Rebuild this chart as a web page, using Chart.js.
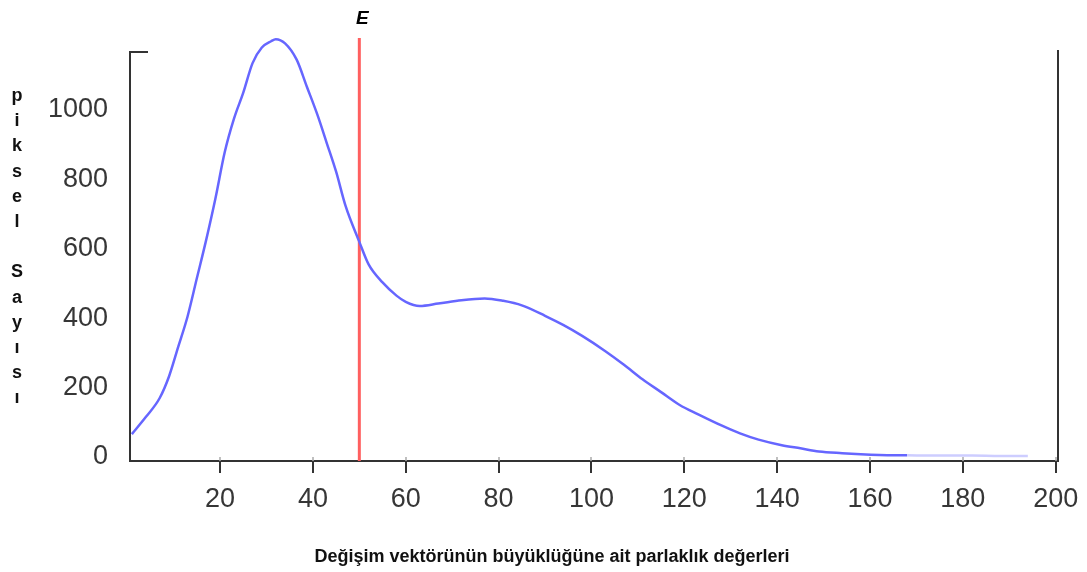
<!DOCTYPE html>
<html>
<head>
<meta charset="utf-8">
<script src="https://cdn.jsdelivr.net/npm/chart.js@4.4.1/dist/chart.umd.min.js"></script>
<style>
  html, body { margin: 0; padding: 0; background: #ffffff; }
  canvas { display: block; }
</style>
</head>
<body>
<canvas id="histogram" width="1087" height="572"></canvas>
<script>
// Histogram of brightness values of the change-vector magnitude
const brightness = [1, 4, 7, 9, 11, 13, 15, 17, 19, 21, 23, 25, 27, 29, 31, 32, 34, 36.5, 38.7, 41, 43, 45, 47, 50, 52, 55, 58, 60, 63, 67, 72, 77, 81, 85, 90, 94, 98, 103, 107, 111, 115, 119, 123, 128, 132, 136, 141, 145, 149, 154, 158, 162, 168, 175, 182, 188, 194];
const pixelCount = [66, 115, 170, 232, 318, 405, 515, 625, 745, 878, 975, 1050, 1135, 1180, 1198, 1204, 1192, 1145, 1067, 985, 904, 822, 725, 620, 555, 503, 465, 447, 435, 442, 452, 457, 450, 437, 407, 380, 349, 305, 266, 224, 187, 150, 123, 91, 68, 50, 34, 25, 16, 11, 8, 6, 5, 4, 4, 3, 3];

const xTicks = [20, 40, 60, 80, 100, 120, 140, 160, 180, 200];
const yTicks = [0, 200, 400, 600, 800, 1000];

// Threshold E marked as a vertical line
const thresholdLabel = 'E';
const thresholdValue = 50;
const thresholdSpan = [-11.5, 1207];

const yTitleText = 'piksel Sayısı';
const xTitleText = 'Değişim vektörünün büyüklüğüne ait parlaklık değerleri';

const AXIS_COLOR = '#333333';
const TICK_FONT = "'Liberation Sans', Arial, sans-serif";
const TITLE_FONT = "'Liberation Sans', Arial, sans-serif";

const frame = {
  id: 'frame',
  beforeDatasetsDraw(chart) {
    const { ctx, chartArea: a, scales: { x } } = chart;
    ctx.save();
    ctx.strokeStyle = AXIS_COLOR;
    ctx.lineWidth = 2;
    ctx.lineCap = 'butt';
    ctx.beginPath();
    // left axis with the short cap at its top
    ctx.moveTo(a.left + 18, a.top);
    ctx.lineTo(a.left, a.top);
    ctx.lineTo(a.left, a.bottom);
    // bottom axis
    ctx.lineTo(a.right, a.bottom);
    // right axis
    ctx.lineTo(a.right, a.top - 2);
    ctx.stroke();
    // tick marks below the bottom axis
    ctx.beginPath();
    xTicks.forEach(v => {
      const px = Math.round(x.getPixelForValue(v));
      ctx.moveTo(px, a.bottom);
      ctx.lineTo(px, a.bottom + 12);
    });
    ctx.stroke();
    // faint inner marks
    ctx.strokeStyle = '#aaaaaa';
    ctx.lineWidth = 1.5;
    ctx.beginPath();
    xTicks.forEach(v => {
      const px = Math.round(x.getPixelForValue(v));
      ctx.moveTo(px, a.bottom);
      ctx.lineTo(px, a.bottom - 4);
    });
    ctx.stroke();
    ctx.restore();
  },
  afterDraw(chart) {
    const { ctx, scales: { x } } = chart;
    ctx.save();
    // threshold label
    ctx.fillStyle = '#000000';
    ctx.font = "italic bold 19px " + TITLE_FONT;
    ctx.textAlign = 'center';
    ctx.textBaseline = 'alphabetic';
    ctx.fillText(thresholdLabel, x.getPixelForValue(thresholdValue) + 3, 24);
    // stacked y axis title
    ctx.font = "bold 18px " + TITLE_FONT;
    ctx.fillStyle = '#111111';
    Array.from(yTitleText).forEach((ch, i) => {
      if (ch !== ' ') ctx.fillText(ch, 17, 101 + i * 25.2);
    });
    // x axis title
    ctx.font = "bold 18px " + TITLE_FONT;
    ctx.fillText(xTitleText, 552, 562);
    ctx.restore();
  }
};

new Chart(document.getElementById('histogram'), {
  type: 'line',
  data: {
    datasets: [
      {
        data: brightness.map((b, i) => ({ x: b, y: pixelCount[i] })),
        borderColor: 'rgb(102, 102, 255)',
        borderWidth: 2.5,
        pointRadius: 0,
        cubicInterpolationMode: 'monotone',
        clip: false,
        segment: {
          borderColor: ctx => ctx.p0.parsed.x >= 168 ? 'rgb(205, 205, 255)' : 'rgb(102, 102, 255)'
        }
      },
      {
        data: thresholdSpan.map(v => ({ x: thresholdValue, y: v })),
        borderColor: 'rgb(255, 95, 95)',
        borderWidth: 3,
        pointRadius: 0,
        clip: false
      }
    ]
  },
  options: {
    responsive: false,
    animation: false,
    events: [],
    layout: { padding: { left: 0, top: 52, right: 29, bottom: 0 } },
    plugins: { legend: { display: false }, tooltip: { enabled: false } },
    scales: {
      x: {
        type: 'linear',
        min: 0.6,
        max: 200.5,
        afterBuildTicks: s => { s.ticks = xTicks.map(v => ({ value: v })); },
        afterFit: s => { s.height = 111; s.paddingLeft = 0; s.paddingRight = 0; },
        grid: { display: false, drawTicks: false },
        border: { display: false },
        ticks: {
          padding: 22,
          color: '#363636',
          font: { family: TICK_FONT, size: 27 },
          maxRotation: 0,
          autoSkip: false,
          callback: v => String(v)
        }
      },
      y: {
        type: 'linear',
        min: -11.5,
        max: 1167,
        afterBuildTicks: s => { s.ticks = yTicks.map(v => ({ value: v })); },
        afterFit: s => { s.width = 130; s.paddingTop = 0; s.paddingBottom = 0; },
        grid: { display: false, drawTicks: false },
        border: { display: false },
        ticks: {
          padding: 22,
          color: '#363636',
          font: { family: TICK_FONT, size: 27 },
          autoSkip: false,
          callback: v => String(v)
        }
      }
    }
  },
  plugins: [frame]
});
</script>
</body>
</html>
